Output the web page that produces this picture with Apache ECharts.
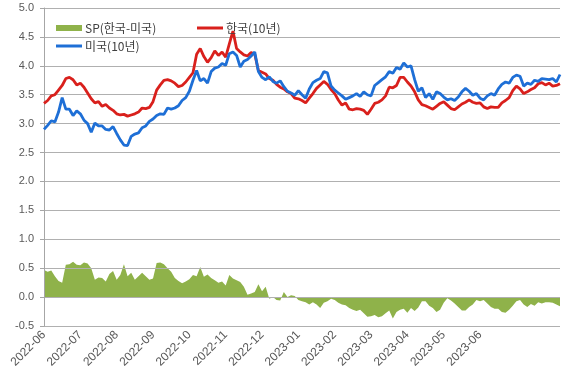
<!DOCTYPE html>
<html><head><meta charset="utf-8">
<script src="https://cdn.jsdelivr.net/npm/echarts@6/dist/echarts.min.js"></script>
<style>html,body{margin:0;padding:0;background:#fff}#c{width:580px;height:378px}</style>
</head><body><div id="c"></div>
<script>
const monthLabels = ['2022-06','2022-07','2022-08','2022-09','2022-10','2022-11','2022-12','2023-01','2023-02','2023-03','2023-04','2023-05','2023-06'];
const yTicks = [-0.5, 0.0, 0.5, 1.0, 1.5, 2.0, 2.5, 3.0, 3.5, 4.0, 4.5, 5.0];
const seriesNames = ['SP(한국-미국)', '한국(10년)', '미국(10년)'];
const korea = [
3.35,3.40,3.48,3.50,3.58,3.66,3.78,3.80,3.76,3.67,
3.70,3.63,3.53,3.43,3.36,3.38,3.30,3.33,3.27,3.23,
3.17,3.15,3.16,3.13,3.15,3.17,3.20,3.27,3.26,3.28,
3.38,3.58,3.67,3.75,3.76,3.74,3.70,3.64,3.66,3.72,
3.80,3.88,4.20,4.30,4.16,4.06,4.14,4.26,4.18,4.24,
4.15,4.38,4.60,4.30,4.24,4.19,4.17,4.23,4.20,3.92,
3.89,3.86,3.78,3.75,3.68,3.63,3.60,3.55,3.52,3.44,
3.43,3.40,3.36,3.44,3.52,3.61,3.67,3.73,3.68,3.59,
3.52,3.41,3.32,3.36,3.25,3.24,3.26,3.25,3.23,3.16,
3.25,3.35,3.37,3.41,3.48,3.63,3.62,3.66,3.80,3.80,
3.72,3.65,3.55,3.41,3.33,3.31,3.28,3.25,3.30,3.35,
3.38,3.32,3.26,3.24,3.29,3.34,3.37,3.41,3.37,3.35,
3.36,3.29,3.26,3.29,3.28,3.28,3.36,3.40,3.45,3.57,
3.65,3.60,3.52,3.55,3.59,3.62,3.69,3.71,3.67,3.70,
3.65,3.66,3.69];
const us = [
2.90,2.97,3.05,3.03,3.20,3.45,3.25,3.25,3.14,3.22,
3.17,3.06,3.00,2.85,3.01,2.96,2.96,2.90,2.89,2.95,
2.83,2.72,2.63,2.62,2.78,2.82,2.84,2.93,2.96,3.04,
3.08,3.14,3.17,3.16,3.27,3.25,3.27,3.31,3.40,3.45,
3.56,3.75,3.92,3.74,3.78,3.70,3.90,3.96,3.98,4.04,
4.01,4.21,4.24,4.18,3.98,4.08,4.11,4.17,4.24,3.90,
3.80,3.76,3.81,3.73,3.70,3.74,3.64,3.56,3.53,3.49,
3.57,3.50,3.44,3.60,3.71,3.75,3.78,3.90,3.88,3.65,
3.58,3.53,3.48,3.42,3.45,3.48,3.52,3.47,3.55,3.50,
3.48,3.66,3.71,3.76,3.81,3.90,3.87,3.97,3.94,4.05,
3.98,4.00,3.76,3.56,3.62,3.45,3.52,3.42,3.55,3.52,
3.46,3.41,3.43,3.40,3.46,3.55,3.61,3.56,3.49,3.52,
3.44,3.41,3.48,3.52,3.49,3.60,3.68,3.72,3.70,3.80,
3.84,3.82,3.65,3.70,3.68,3.75,3.73,3.78,3.77,3.76,
3.78,3.72,3.85];
const spread = [
0.47,0.44,0.46,0.36,0.28,0.25,0.56,0.57,0.61,0.56,
0.55,0.60,0.58,0.50,0.30,0.34,0.33,0.27,0.40,0.45,
0.30,0.38,0.57,0.36,0.42,0.30,0.36,0.42,0.36,0.30,
0.32,0.59,0.60,0.57,0.50,0.44,0.33,0.28,0.24,0.27,
0.31,0.38,0.36,0.52,0.35,0.39,0.33,0.29,0.25,0.27,
0.20,0.38,0.32,0.29,0.26,0.18,0.04,0.06,0.09,0.22,
0.10,0.18,-0.03,0.00,-0.05,-0.06,0.09,0.00,0.03,0.02,
-0.05,-0.07,-0.09,-0.13,-0.09,-0.13,-0.19,-0.10,-0.07,-0.03,
-0.05,-0.10,-0.13,-0.14,-0.19,-0.22,-0.24,-0.22,-0.28,-0.34,
-0.33,-0.31,-0.35,-0.33,-0.28,-0.23,-0.37,-0.26,-0.22,-0.20,
-0.27,-0.19,-0.24,-0.18,-0.07,-0.07,-0.15,-0.19,-0.26,-0.22,
-0.10,-0.02,-0.06,-0.11,-0.17,-0.23,-0.23,-0.17,-0.13,-0.05,
-0.07,-0.05,-0.11,-0.17,-0.20,-0.20,-0.26,-0.27,-0.22,-0.15,
-0.07,-0.05,-0.13,-0.17,-0.12,-0.15,-0.09,-0.11,-0.09,-0.09,
-0.10,-0.13,-0.16];

const PER = 10;
const cats = korea.map((_, i) => (i % PER === 0 && i / PER < monthLabels.length) ? monthLabels[i / PER] : ('#' + i));
const GREEN = '#8fb24a', RED = '#d9201c', BLUE = '#1e6fd6';
const font = "'Liberation Sans', 'Noto Sans CJK KR', sans-serif";
const legText = { color: '#404040', fontSize: 12, fontFamily: "'Noto Sans CJK KR', sans-serif", padding: [0,0,0,-2] };

const chart = echarts.init(document.getElementById('c'), null, { renderer: 'canvas' });
chart.setOption({
  animation: false,
  backgroundColor: '#fff',
  grid: { left: 44, right: 20, top: 8, bottom: 52 },
  legend: [
    { data: [seriesNames[0]], left: 51, top: 17, itemWidth: 26, itemHeight: 6, icon: 'rect', textStyle: legText },
    { data: [seriesNames[1]], left: 192, top: 17, itemWidth: 26, itemHeight: 3, icon: 'rect', textStyle: legText },
    { data: [seriesNames[2]], left: 51, top: 35, itemWidth: 26, itemHeight: 3, icon: 'rect', textStyle: legText }
  ],
  xAxis: {
    type: 'category', data: cats, boundaryGap: false,
    axisLine: { show: false, onZero: false },
    axisTick: { show: false },
    splitLine: { show: false },
    axisLabel: {
      rotate: 45, margin: 7, color: '#595959', fontSize: 12, fontFamily: font,
      interval: (i) => i % PER === 0 && i / PER < monthLabels.length
    }
  },
  yAxis: {
    type: 'value', min: yTicks[0], max: yTicks[yTicks.length - 1], interval: 0.5,
    axisLine: { show: true, lineStyle: { color: '#a6a6a6', width: 1 } },
    axisTick: { show: true, length: 4, lineStyle: { color: '#a6a6a6' } },
    splitLine: { show: true, lineStyle: { color: '#b0b0b0', width: 1 } },
    axisLabel: { color: '#595959', fontSize: 11, fontFamily: font, margin: 10, formatter: v => v.toFixed(1) }
  },
  series: [
    { name: seriesNames[0], type: 'line', data: spread, symbol: 'none', z: -1,
      lineStyle: { width: 0, color: GREEN }, itemStyle: { color: GREEN },
      areaStyle: { color: GREEN, opacity: 1 } },
    { name: seriesNames[1], type: 'line', data: korea, symbol: 'none',
      lineStyle: { width: 2.8, color: RED }, itemStyle: { color: RED } },
    { name: seriesNames[2], type: 'line', data: us, symbol: 'none',
      lineStyle: { width: 2.8, color: BLUE }, itemStyle: { color: BLUE } }
  ]
});
</script></body></html>
